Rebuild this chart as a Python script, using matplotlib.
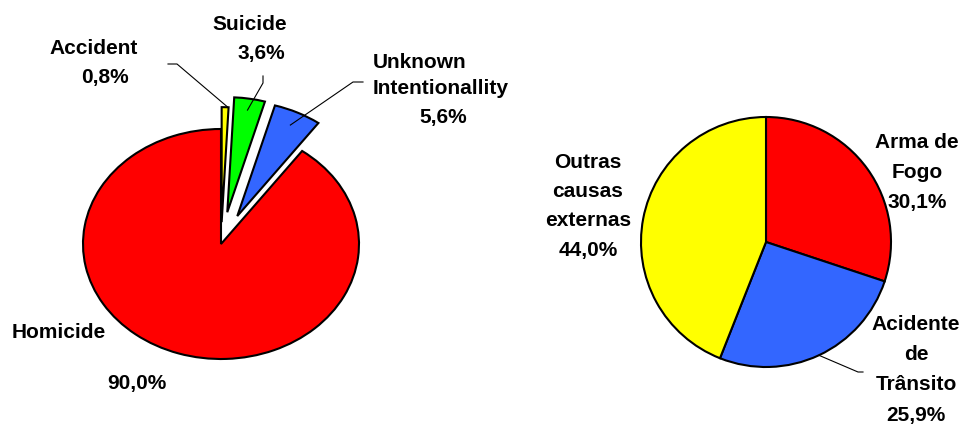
import matplotlib
matplotlib.use('Agg')
import matplotlib.pyplot as plt
from matplotlib.lines import Line2D
import numpy as np

# left pie: manner of death (clockwise from the top)
left_names = ['Accident', 'Suicide', 'Unknown Intentionallity', 'Homicide']
left_values = [0.8, 3.6, 5.6, 90.0]
left_colors = ['#FFFF00', '#00FF00', '#3366FF', '#FF0000']
left_explode = [0.19, 0.28, 0.27, 0.0]

# right pie: external causes (clockwise from the top)
right_names = ['Arma de Fogo', 'Acidente de Trânsito', 'Outras causas externas']
right_values = [30.1, 25.9, 44.0]
right_colors = ['#FF0000', '#3366FF', '#FFFF00']

W, H = 969, 425
plt.rcParams['font.family'] = ['Liberation Sans', 'DejaVu Sans']
plt.rcParams['font.weight'] = 'bold'
FS = 15

fig = plt.figure(figsize=(W / 100, H / 100), dpi=100)


def fr(x, y):
    # image pixel -> figure fraction
    return x / W, 1 - y / H


def pie_axes(cx, cy, rx, ry, lim=1.6):
    ax = fig.add_axes([(cx - lim * rx) / W, (H - cy - lim * ry) / H,
                       2 * lim * rx / W, 2 * lim * ry / H])
    return ax, lim


def finish(ax, lim):
    ax.set_aspect('auto')
    ax.set_xlim(-lim, lim)
    ax.set_ylim(-lim, lim)
    ax.axis('off')


def wedge_pt(ax, w, r=1.0, frac=0.5):
    ang = np.deg2rad(w.theta1 + frac * (w.theta2 - w.theta1))
    p = (w.center[0] + r * np.cos(ang), w.center[1] + r * np.sin(ang))
    px = ax.transData.transform(p)
    return px[0] / W, px[1] / H


def leader(pts):
    xs = [p[0] for p in pts]
    ys = [p[1] for p in pts]
    fig.add_artist(Line2D(xs, ys, color='black', lw=0.8, transform=fig.transFigure))


def label(x, y, s, ha='center'):
    fx, fy = fr(x, y)
    fig.text(fx, fy, s, ha=ha, va='center', fontsize=FS, fontweight='bold')


# ---- left pie ----
axl, liml = pie_axes(221, 244, 138, 115)
wl, _ = axl.pie(left_values, colors=left_colors, explode=left_explode,
                startangle=90, counterclock=False,
                wedgeprops=dict(edgecolor='black', linewidth=1.5))
finish(axl, liml)

# ---- right pie ----
axr, limr = pie_axes(766, 242, 125, 125)
wr, _ = axr.pie(right_values, colors=right_colors,
                startangle=90, counterclock=False,
                wedgeprops=dict(edgecolor='black', linewidth=1.5))
finish(axr, limr)

fmt = lambda v: f'{v:.1f}'.replace('.', ',') + '%'

# labels, left
label(94, 48, 'Accident')
label(105, 78, fmt(left_values[0]))
label(250, 24, 'Suicide')
label(261, 54, fmt(left_values[1]))
label(373, 63, 'Unknown', ha='left')
label(373, 88, 'Intentionallity', ha='left')
label(443, 118, fmt(left_values[2]))
label(59, 333, 'Homicide')
label(137, 383, fmt(left_values[3]))

# leader lines, left
leader([fr(168, 64), fr(177, 64), wedge_pt(axl, wl[0], 1.0, 0.1)])
leader([fr(263, 76), fr(263, 83), wedge_pt(axl, wl[1], 0.9, 0.5)])
leader([fr(363, 82), fr(353, 82), wedge_pt(axl, wl[2], 0.88, 0.5)])

# labels, right
for i, s in enumerate(['Arma de', 'Fogo', fmt(right_values[0])]):
    label(917, 142 + 30 * i, s)
for i, s in enumerate(['Acidente', 'de', 'Trânsito', fmt(right_values[1])]):
    label(916, 325 + 30 * i, s)
for i, s in enumerate(['Outras', 'causas', 'externas', fmt(right_values[2])]):
    label(588, 162 + 29.5 * i, s)

leader([wedge_pt(axr, wr[1], 1.0, 0.5), fr(858, 372), fr(863, 372)])

fig.savefig('out.png', dpi=100)
